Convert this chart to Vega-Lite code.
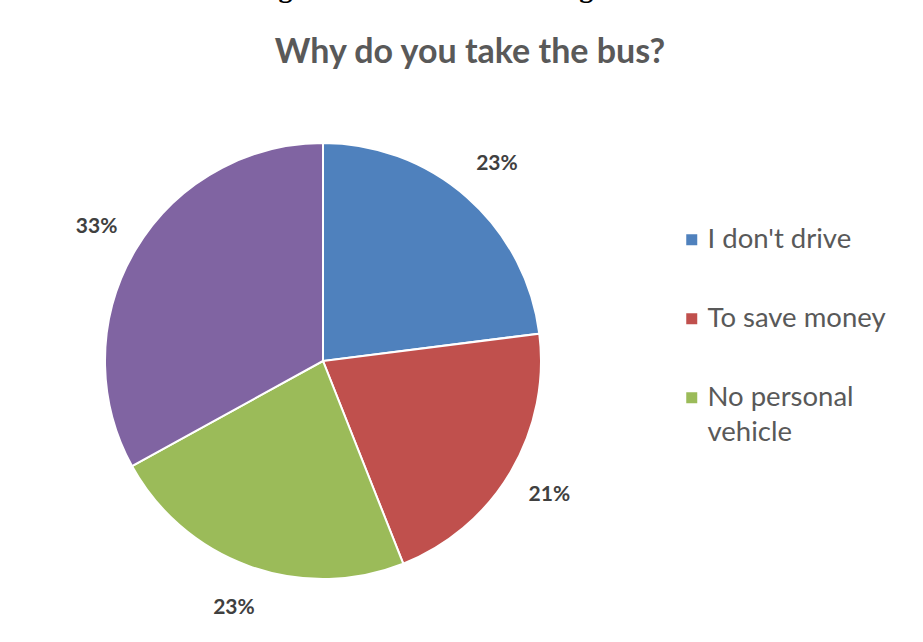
{
  "$schema": "https://vega.github.io/schema/vega-lite/v6.json",
  "width": 632,
  "height": 522,
  "autosize": {"type": "none"},
  "padding": {"left": 7, "top": 100, "right": 284, "bottom": 20},
  "background": "white",
  "view": {"stroke": null},
  "config": {"style": {"guide-label": {"lineHeight": 35}}},
  "title": {
    "text": "Figure 1: Reasons for taking the bus",
    "subtitle": "Why do you take the bus?",
    "anchor": "middle",
    "frame": "group",
    "dx": 147,
    "font": "Liberation Serif",
    "fontSize": 28,
    "fontWeight": "bold",
    "color": "black",
    "subtitleFont": "Lato",
    "subtitleFontSize": 34,
    "subtitleFontWeight": "bold",
    "subtitleColor": "#595959",
    "subtitlePadding": 33,
    "offset": 30
  },
  "data": {
    "values": [
      {"reason": "I don't drive", "share": 0.23, "order": 1},
      {"reason": "To save money", "share": 0.21, "order": 2},
      {"reason": "No personal vehicle", "share": 0.23, "order": 3},
      {"reason": "Other", "share": 0.33, "order": 4}
    ]
  },
  "encoding": {
    "theta": {"field": "share", "type": "quantitative", "stack": true},
    "order": {"field": "order", "type": "quantitative"}
  },
  "layer": [
    {
      "mark": {"type": "arc", "outerRadius": 218, "stroke": "white", "strokeWidth": 2},
      "encoding": {
        "color": {
          "field": "reason",
          "type": "nominal",
          "scale": {
            "domain": ["I don't drive", "To save money", "No personal vehicle", "Other"],
            "range": ["#4F81BD", "#C0504D", "#9BBB59", "#8064A2"]
          },
          "legend": {
            "values": ["I don't drive", "To save money", "No personal vehicle"],
            "orient": "none",
            "legendX": 671,
            "legendY": 126,
            "title": null,
            "padding": 0,
            "symbolType": "square",
            "symbolSize": 121,
            "symbolStrokeWidth": 0,
            "labelFont": "Lato",
            "labelFontSize": 27.5,
            "labelColor": "#595959",
            "labelLimit": 400,
            "labelOffset": 2,
            "rowPadding": 50,
            "labelExpr": "datum.label == 'No personal vehicle' ? ['No personal', 'vehicle'] : datum.label"
          }
        }
      }
    },
    {
      "mark": {"type": "text", "radius": 263, "font": "Lato", "fontSize": 21, "fontWeight": "bold", "color": "#404040"},
      "encoding": {
        "text": {"field": "share", "type": "quantitative", "format": ".0%"}
      }
    }
  ]
}
